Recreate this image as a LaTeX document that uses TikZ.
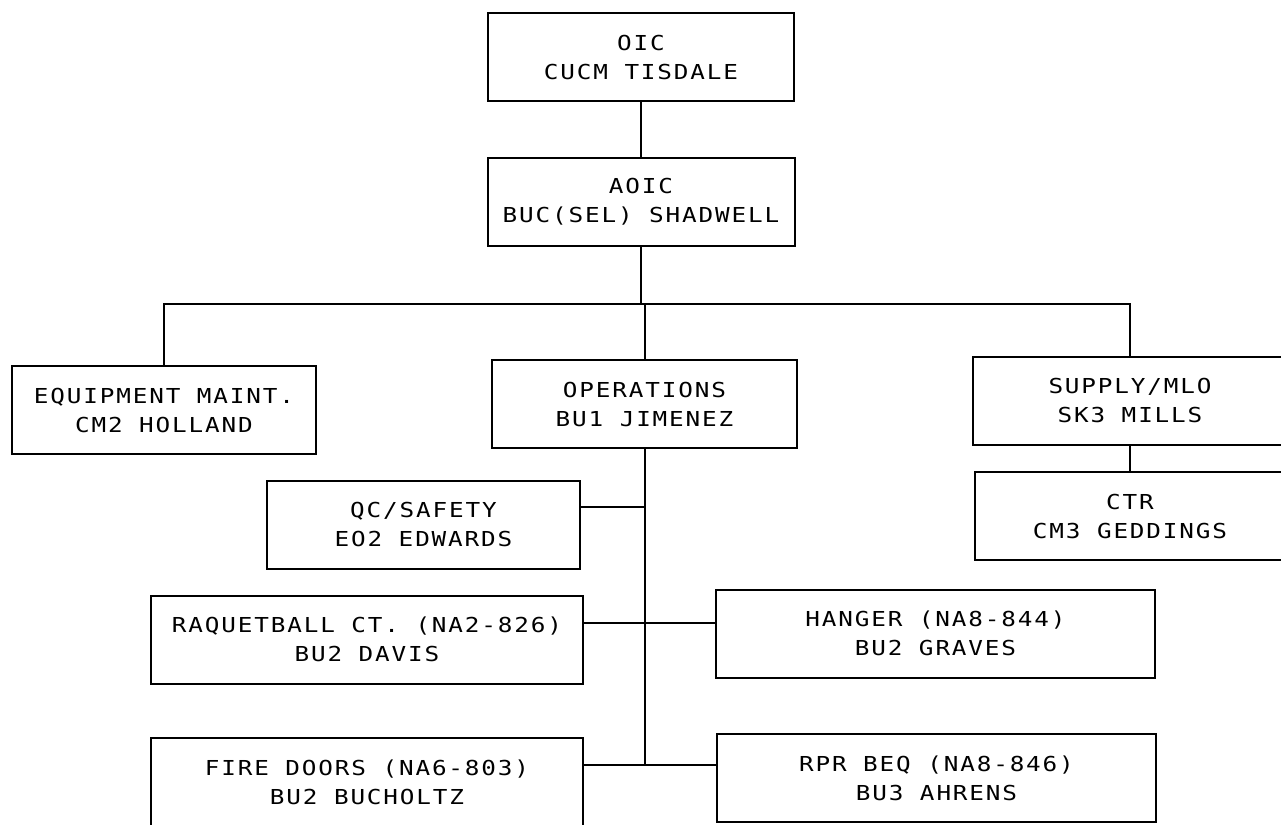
\documentclass[tikz,border=0pt]{standalone}
\usepackage{fontspec}
\newfontfamily\plotter[FakeStretch=1.18, LetterSpace=9]{DejaVu Sans Mono}
\usetikzlibrary{calc}

\begin{document}
\begin{tikzpicture}[x=1pt, y=-1pt,
	billet/.style={draw, line width=2pt, inner sep=0pt, minimum height=88pt, minimum width=#1,
		align=center, font=\plotter\fontsize{20.6}{29}\selectfont},
	link/.style={line width=2pt}]
	\useasboundingbox (0, 0) rectangle (1281, 824);
	\node[billet=306pt] at (641, 57.5) (oic) {OIC\\CUCM TISDALE};
	\node[billet=307pt] at (641, 201.5) (aoic) {AOIC\\BUC(SEL) SHADWELL};
	\node[billet=304pt] at (164, 410) (equip) {EQUIPMENT MAINT.\\CM2 HOLLAND};
	\node[billet=305pt] at (644.5, 404) (ops) {OPERATIONS\\BU1 JIMENEZ};
	\node[billet=314pt] at (1130, 400.5) (supply) {SUPPLY/MLO\\SK3 MILLS};
	\node[billet=310pt] at (1130, 516) (ctr) {CTR\\CM3 GEDDINGS};
	\node[billet=313pt] at (423.5, 524.5) (qc) {QC/SAFETY\\EO2 EDWARDS};
	\node[billet=432pt] at (367, 639.5) (court) {RAQUETBALL CT. (NA2-826)\\BU2 DAVIS};
	\node[billet=439pt] at (935.5, 633.5) (hanger) {HANGER (NA8-844)\\BU2 GRAVES};
	\node[billet=432pt] at (367, 782) (doors) {FIRE DOORS (NA6-803)\\BU2 BUCHOLTZ};
	\node[billet=439pt] at (936.5, 778) (beq) {RPR BEQ (NA8-846)\\BU3 AHRENS};

	\coordinate (bus) at ($(aoic.south)+(0, 57)$);
	\coordinate (qcpin) at ($(qc.east)+(0, -18)$);
	\coordinate (courtpin) at ($(court.east)+(0, -17)$);
	\coordinate (doorspin) at ($(doors.east)+(0, -17)$);
	\coordinate (trunk) at (ops.south |- doorspin);

	\draw[link] (oic.south) -- (aoic.north);
	\draw[link] (aoic.south) -- (bus);
	\draw[link] (equip.north) |- (bus) -| (supply.north);
	\draw[link] (bus) -- (bus -| ops.north) -- (ops.north);
	\draw[link] (supply.south) -- (ctr.north);
	\draw[link] (ops.south) -- (trunk);
	\draw[link] (qcpin) -- (qcpin -| ops.south);
	\draw[link] (courtpin) -- (courtpin -| hanger.west);
	\draw[link] (doorspin) -- (doorspin -| beq.west);
\end{tikzpicture}
\end{document}
